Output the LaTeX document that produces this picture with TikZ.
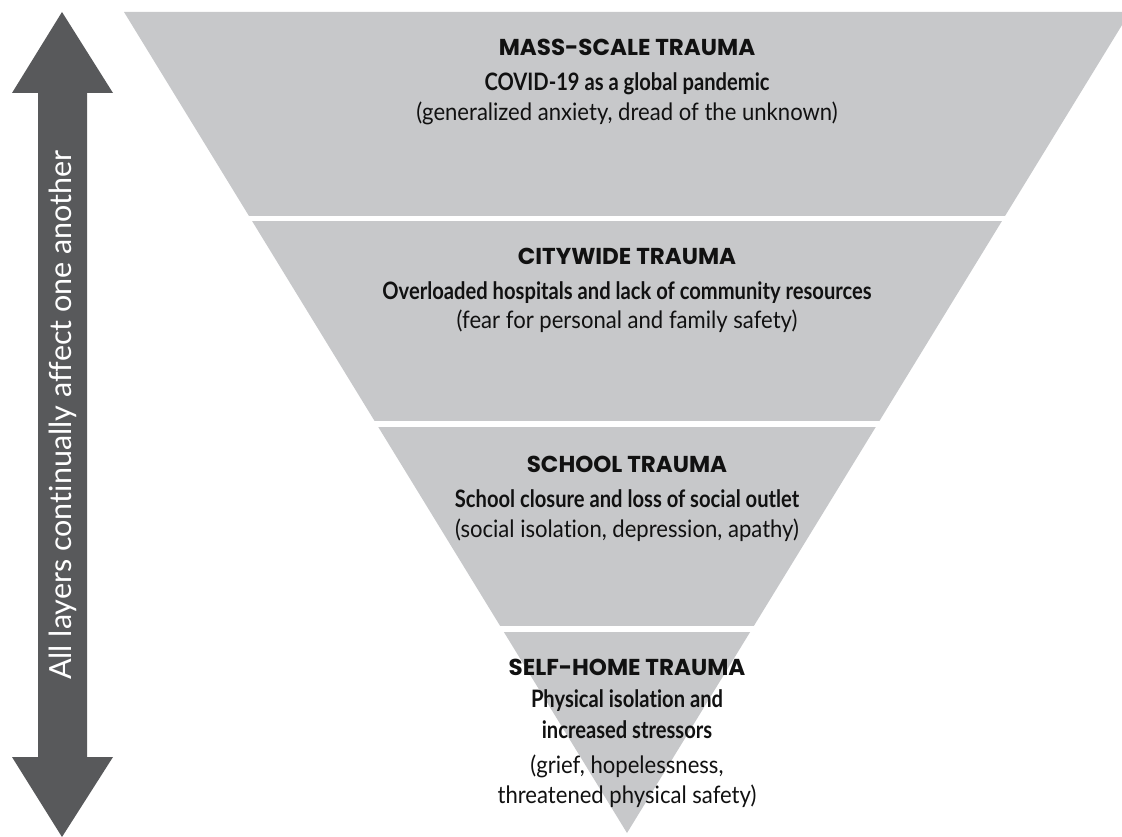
\documentclass[tikz,border=0pt]{standalone}
\usepackage{fontspec}
\newfontfamily\ttlfont{Poppins}
\newfontfamily\condfont{Lato}[FakeStretch=0.84, Ligatures=NoCommon]
\newfontfamily\notefont{Lato}[FakeStretch=0.92, Ligatures=NoCommon]
\newfontfamily\arrfont{Lato}[Ligatures=NoCommon]
\definecolor{layergray}{HTML}{C7C8CA}
\definecolor{arrowgray}{HTML}{58595B}
\definecolor{inkc}{HTML}{111111}
\tikzset{
  ttl/.style={anchor=base, inner sep=0pt, text=inkc, font=\ttlfont\bfseries\fontsize{23}{25}\selectfont},
  sub/.style={anchor=base, inner sep=0pt, text=inkc, font=\condfont\bfseries\fontsize{24}{31}\selectfont, align=center},
  note/.style={anchor=base, inner sep=0pt, text=inkc, font=\notefont\fontsize{24}{30}\selectfont, align=center},
}
\begin{document}
\begin{tikzpicture}[x=1pt,y=-1pt]
\useasboundingbox (0,0) rectangle (1122,837);
\begin{scope}
\clip (0,0) rectangle (1122,837);
% inverted triangle
\fill[layergray] (124,12) -- (1130,12) -- (627,833) -- cycle;
% white gaps between layers
\fill[white] (100,216) rectangle (1122,221);
\fill[white] (100,421) rectangle (1122,427);
\fill[white] (100,626) rectangle (1122,632);
\end{scope}
% double arrow
\fill[arrowgray] (62,12) -- (113,93) -- (87,93) -- (87,757) -- (113,757) -- (62,837)
  -- (12,757) -- (38,757) -- (38,93) -- (12,93) -- cycle;
\node[anchor=base, inner sep=0pt, rotate=90, text=white, font=\arrfont\fontsize{30.5}{32}\selectfont]
  (arrtext) at (71,415) {All layers continually affect one another};
% layer 1
\node[ttl] (t1) at (627,56) {MASS-SCALE TRAUMA};
\node[sub] (s1) at (627,91) {COVID-19 as a global pandemic};
\node[note] (n1) at (627,121) {(generalized anxiety, dread of the unknown)};
% layer 2
\node[ttl] (t2) at (627,265) {CITYWIDE TRAUMA};
\node[sub] (s2) at (627,299) {Overloaded hospitals and lack of community resources};
\node[note] (n2) at (627,328) {(fear for personal and family safety)};
% layer 3
\node[ttl] (t3) at (627,472) {SCHOOL TRAUMA};
\node[sub] (s3) at (627,507) {School closure and loss of social outlet};
\node[note] (n3) at (627,537) {(social isolation, depression, apathy)};
% layer 4
\node[ttl] (t4) at (627,675) {SELF-HOME TRAUMA};
\node[sub] (s4a) at (627,707) {Physical isolation and};
\node[sub] (s4b) at (627,738) {increased stressors};
\node[note] (n4a) at (627,773) {(grief, hopelessness,};
\node[note] (n4b) at (627,803) {threatened physical safety)};
\end{tikzpicture}
\end{document}
